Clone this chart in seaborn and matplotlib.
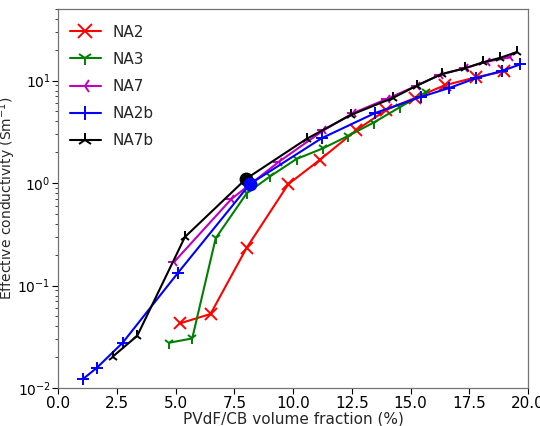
import matplotlib
matplotlib.use("Agg")
import matplotlib.pyplot as plt
import seaborn as sns

# values
na2_x = [5.18, 6.48, 8.02, 9.79, 11.14, 12.67, 13.97, 15.2, 16.45, 17.8, 18.97]
na2_y = [0.0428, 0.0528, 0.234, 0.975, 1.69, 3.26, 5.19, 6.8, 9.0, 10.8, 12.3]

na3_x = [4.72, 5.70, 6.70, 8.02, 9.01, 10.14, 11.28, 12.34, 13.43, 14.54, 15.65]
na3_y = [0.0277, 0.0305, 0.29, 0.796, 1.16, 1.72, 2.19, 2.89, 3.90, 5.5, 7.7]

na7_x = [4.94, 7.37, 9.40, 11.28, 12.55, 14.0, 15.25, 16.24, 17.31, 18.23, 19.22]
na7_y = [0.171, 0.70, 1.62, 3.26, 4.82, 6.64, 8.9, 11.4, 13.2, 15.3, 16.8]

na2b_x = [1.04, 1.63, 2.74, 5.08, 8.16, 11.21, 13.48, 15.45, 16.63, 17.8, 18.87, 19.67]
na2b_y = [0.0122, 0.0157, 0.0277, 0.132, 0.98, 2.74, 4.82, 6.95, 8.45, 10.6, 12.4, 14.4]

na7b_x = [2.31, 3.36, 5.39, 7.99, 10.57, 12.46, 14.23, 15.25, 16.33, 17.31, 18.09, 18.82, 19.52]
na7b_y = [0.0202, 0.0324, 0.298, 1.10, 2.7, 4.63, 6.75, 8.9, 11.6, 13.2, 15.1, 16.7, 19.0]

# threshold points (big dots)
thr_x = [7.99, 8.17]
thr_y = [1.10, 0.97]
thr_colors = ["black", "blue"]

series = [
    ("NA2", na2_x, na2_y, "red", "x"),
    ("NA3", na3_x, na3_y, "green", "1"),
    ("NA7", na7_x, na7_y, "m", "3"),
    ("NA2b", na2b_x, na2b_y, "blue", "+"),
    ("NA7b", na7b_x, na7b_y, "black", "2"),
]

sns.set_style("ticks")
plt.rcParams["font.family"] = ["DejaVu Sans"]
plt.rcParams["font.size"] = 11

fig, ax = plt.subplots(figsize=(5.4, 4.26), dpi=100)
fig.subplots_adjust(left=0.108, right=0.978, bottom=0.089, top=0.979)

for name, xs, ys, col, mk in series:
    sns.lineplot(x=xs, y=ys, ax=ax, sort=False, color=col, marker=mk,
                 markersize=8, markeredgecolor=col, markeredgewidth=1.4,
                 linewidth=1.5, label=name)

for tx, ty, tc in zip(thr_x, thr_y, thr_colors):
    ax.plot([tx], [ty], "o", color=tc, markersize=9, zorder=5)

ax.set_yscale("log")
ax.set_xlim(0, 20)
ax.set_ylim(0.01, 50)
ax.set_xticks([0, 2.5, 5, 7.5, 10, 12.5, 15, 17.5, 20])
ax.set_xticklabels(["0.0", "2.5", "5.0", "7.5", "10.0", "12.5", "15.0", "17.5", "20.0"])
ax.tick_params(axis="x", labelsize=11, colors="black", pad=2, length=4)
ax.tick_params(axis="y", labelsize=10, colors="black", pad=1.5, length=4)
ax.tick_params(which="minor", length=2.5)
for s in ax.spines.values():
    s.set_color("0.45")
    s.set_linewidth(0.9)

ax.set_xlabel("PVdF/CB volume fraction (%)", fontsize=11, labelpad=0)
ax.set_ylabel("Effective conductivity (Sm$^{-1}$)", fontsize=10)
ax.yaxis.set_label_coords(-0.086, 0.5)
ax.legend(loc="upper left", bbox_to_anchor=(0.012, 0.975), borderaxespad=0,
          frameon=False, fontsize=11, handlelength=2.0, handletextpad=0.8,
          labelspacing=0.8, markerscale=1.3)

fig.savefig("out.png", dpi=100)
